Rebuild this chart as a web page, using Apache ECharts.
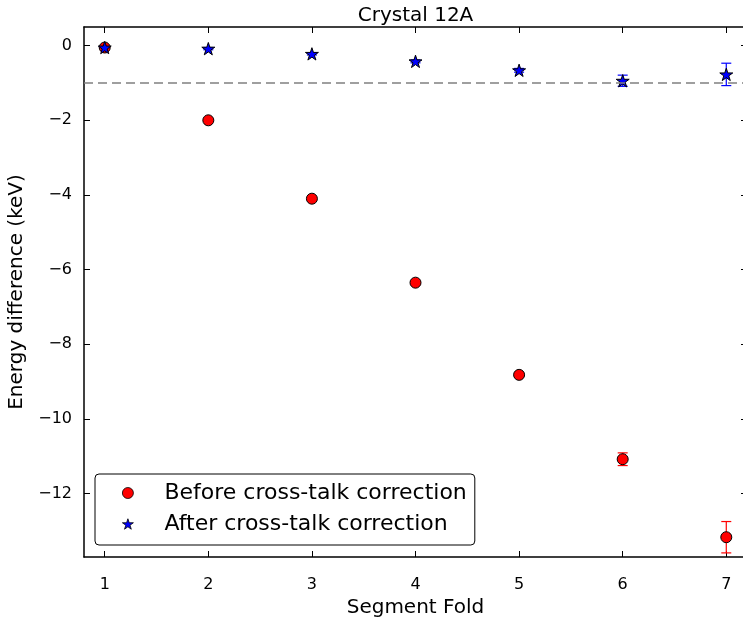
<!DOCTYPE html>
<html>
<head>
<meta charset="utf-8">
<script src="https://cdn.jsdelivr.net/npm/echarts@6/dist/echarts.min.js"></script>
<style>
  html, body { margin: 0; padding: 0; background: #fff; }
  #chart { width: 743px; height: 619px; }
</style>
</head>
<body>
<div id="chart"></div>
<script>
// segment fold on x
const folds = [1, 2, 3, 4, 5, 6, 7];
// energy difference (keV) before / after cross-talk correction
const beforeVals = [-0.05, -2.0, -4.1, -6.35, -8.82, -11.08, -13.17];
const beforeErr = [0.03, 0.03, 0.03, 0.04, 0.05, 0.17, 0.42];
const afterVals = [-0.05, -0.08, -0.22, -0.42, -0.66, -0.94, -0.77];
const afterErr = [0.03, 0.03, 0.03, 0.04, 0.05, 0.15, 0.30];
const refLine = -1;
const xTicks = [1, 2, 3, 4, 5, 6, 7];
const yTicks = [-12, -10, -8, -6, -4, -2, 0];

const STAR = 'path://M50 0 L61.23 34.55 L97.55 34.55 L68.16 55.9 L79.39 90.45 L50 69.1 L20.61 90.45 L31.84 55.9 L2.45 34.55 L38.77 34.55 Z';
const FONT = 'DejaVu Sans';

function pts(vals) {
  return folds.map((x, i) => [x, vals[i]]);
}
function errPts(vals, errs) {
  return folds.map((x, i) => [x, vals[i] - errs[i], vals[i] + errs[i]]);
}
function errBar(color) {
  return function (params, api) {
    const lo = api.coord([api.value(0), api.value(1)]);
    const hi = api.coord([api.value(0), api.value(2)]);
    const w = 5;
    const st = { stroke: color, lineWidth: 1.2 };
    return {
      type: 'group',
      children: [
        { type: 'line', shape: { x1: lo[0], y1: lo[1], x2: hi[0], y2: hi[1] }, style: st },
        { type: 'line', shape: { x1: lo[0] - w, y1: lo[1], x2: lo[0] + w, y2: lo[1] }, style: st },
        { type: 'line', shape: { x1: hi[0] - w, y1: hi[1], x2: hi[0] + w, y2: hi[1] }, style: st }
      ]
    };
  };
}
const minus = v => String(v).replace('-', '\u2212');

const axisLine = { show: true, onZero: false, lineStyle: { color: '#000', width: 1.5 } };
const tick = { show: true, inside: true, length: 6, lineStyle: { color: '#000', width: 1 } };

const myChart = echarts.init(document.getElementById('chart'));
myChart.setOption({
  animation: false,
  backgroundColor: '#fff',
  grid: { left: 84, top: 27, right: -4, bottom: 62, outerBoundsMode: 'none', containLabel: false },
  legend: {
    orient: 'vertical',
    left: 95,
    top: 474,
    padding: [8, 8, 10, 27],
    itemGap: 9,
    itemWidth: 11,
    itemHeight: 11,
    borderColor: '#000',
    borderWidth: 1,
    borderRadius: 4,
    textStyle: { fontFamily: FONT, fontSize: 22, color: '#000', padding: [0, 0, 0, 26] },
    data: [
      { name: 'Before cross-talk correction', icon: 'circle', itemStyle: { borderWidth: 0.8 } },
      { name: 'After cross-talk correction', icon: STAR, itemStyle: { borderWidth: 0.8 } }
    ]
  },
  xAxis: [
    {
      type: 'value', min: 0.8, max: 7.2,
      name: 'Segment Fold', nameLocation: 'middle', nameGap: 41,
      nameTextStyle: { fontFamily: FONT, fontSize: 20, color: '#000' },
      axisLine: axisLine,
      axisTick: Object.assign({ customValues: xTicks }, tick),
      axisLabel: { customValues: xTicks, fontFamily: FONT, fontSize: 16, color: '#000', margin: 20 },
      splitLine: { show: false }
    },
    {
      type: 'value', min: 0.8, max: 7.2, position: 'top',
      name: 'Crystal 12A', nameLocation: 'middle', nameGap: 1,
      nameTextStyle: { fontFamily: FONT, fontSize: 20, color: '#000' },
      axisLine: axisLine,
      axisTick: Object.assign({ customValues: xTicks }, tick),
      axisLabel: { show: false },
      splitLine: { show: false }
    }
  ],
  yAxis: [
    {
      type: 'value', min: -13.7, max: 0.5,
      name: 'Energy difference (keV)', nameLocation: 'middle', nameGap: 57,
      nameTextStyle: { fontFamily: FONT, fontSize: 20, color: '#000' },
      axisLine: axisLine,
      axisTick: Object.assign({ customValues: yTicks }, tick),
      axisLabel: { customValues: yTicks, fontFamily: FONT, fontSize: 16, color: '#000', margin: 12, formatter: minus },
      splitLine: { show: false }
    },
    {
      type: 'value', min: -13.7, max: 0.5, position: 'right',
      axisLine: axisLine,
      axisTick: Object.assign({ customValues: yTicks }, tick),
      axisLabel: { show: false },
      splitLine: { show: false }
    }
  ],
  series: [
    {
      type: 'custom', name: 'beforeErr', renderItem: errBar('#ff0000'),
      data: errPts(beforeVals, beforeErr), z: 2, silent: true,
      encode: { x: 0, y: [1, 2] }
    },
    {
      type: 'custom', name: 'afterErr', renderItem: errBar('#0000ff'),
      data: errPts(afterVals, afterErr), z: 2, silent: true,
      encode: { x: 0, y: [1, 2] }
    },
    {
      type: 'scatter', name: 'Before cross-talk correction',
      data: pts(beforeVals), symbol: 'circle', symbolSize: 11, z: 3,
      itemStyle: { color: '#ff0000', borderColor: '#000', borderWidth: 1, opacity: 1 },
      markLine: {
        silent: true, symbol: 'none', label: { show: false },
        lineStyle: { color: '#808080', type: [9, 5], width: 1.5 },
        data: [{ yAxis: refLine }]
      }
    },
    {
      type: 'scatter', name: 'After cross-talk correction',
      data: pts(afterVals), symbol: STAR, symbolSize: 13, symbolKeepAspect: true, z: 4,
      itemStyle: { color: '#0000ff', borderColor: '#000', borderWidth: 1, opacity: 1 }
    }
  ]
});
</script>
</body>
</html>
